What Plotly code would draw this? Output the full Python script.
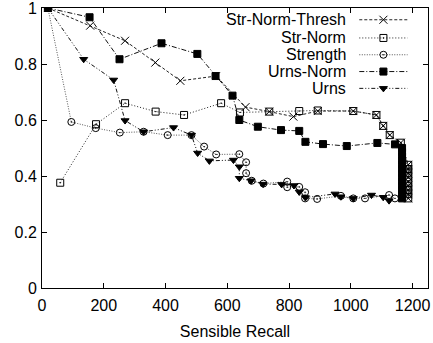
import plotly.graph_objects as go

# ---- data ----
thresh_x = [19, 156, 269, 367, 448, 564, 659, 736, 814, 893, 1008, 1083, 1105, 1126, 1162,
            1186, 1186, 1186, 1186, 1186, 1186, 1186, 1186, 1186]
thresh_y = [1.0, 0.937, 0.883, 0.805, 0.740, 0.757, 0.646, 0.630, 0.612, 0.632, 0.632, 0.618, 0.579, 0.546, 0.519,
            0.44, 0.425, 0.41, 0.395, 0.38, 0.365, 0.35, 0.335, 0.32]

strnorm_x = [59, 175, 269, 368, 460, 580, 641, 736, 833, 893, 1008, 1083, 1105, 1126, 1162,
             1186, 1186, 1186, 1186, 1186, 1186, 1186, 1186, 1186]
strnorm_y = [0.376, 0.585, 0.660, 0.630, 0.618, 0.660, 0.627, 0.630, 0.632, 0.634, 0.632, 0.618, 0.579, 0.546, 0.519,
             0.44, 0.425, 0.41, 0.395, 0.38, 0.365, 0.35, 0.335, 0.32]

strength_x = [19, 95, 174, 252, 329, 407, 484, 525, 564, 639, 661, 661, 679, 717, 794, 794, 833, 852, 852,
              891, 968, 1008, 1046, 1124, 1143]
strength_y = [1.0, 0.593, 0.571, 0.555, 0.558, 0.546, 0.546, 0.505, 0.477, 0.478, 0.449, 0.410, 0.383, 0.373,
              0.380, 0.360, 0.361, 0.342, 0.320, 0.318, 0.329, 0.320, 0.320, 0.332, 0.320]

urnsnorm_x = [19, 154, 251, 387, 503, 562, 617, 639, 699, 774, 833, 853, 910, 987, 1086, 1143,
              1166, 1166, 1166, 1166, 1166, 1166, 1166, 1166, 1166, 1166, 1166, 1166, 1166]
urnsnorm_y = [1.0, 0.967, 0.817, 0.874, 0.836, 0.757, 0.687, 0.600, 0.576, 0.564, 0.561, 0.522, 0.514, 0.507,
              0.518, 0.513,
              0.50, 0.485, 0.47, 0.455, 0.44, 0.425, 0.41, 0.395, 0.38, 0.365, 0.35, 0.335, 0.32]

urns_x = [19, 135, 232, 269, 329, 426, 484, 504, 542, 620, 639, 639, 677, 716, 776, 816, 833, 853, 949, 968,
          1008, 1067, 1105, 1124]
urns_y = [1.0, 0.817, 0.743, 0.598, 0.558, 0.573, 0.546, 0.482, 0.454, 0.457, 0.433, 0.392, 0.383, 0.371,
          0.370, 0.366, 0.343, 0.323, 0.336, 0.326, 0.320, 0.332, 0.324, 0.312]

series_names = ["Str-Norm-Thresh", "Str-Norm", "Strength", "Urns-Norm", "Urns"]
x_ticks = [0, 200, 400, 600, 800, 1000, 1200]
y_ticks = [0, 0.2, 0.4, 0.6, 0.8, 1]
y_ticktext = ["0", "0.2", "0.4", "0.6", "0.8", "1"]

FONT = "Liberation Sans, Arial, Helvetica, sans-serif"

styles = [
    dict(dash="3px,2px", color="#222", symbol="x-thin-open", size=8, width=1),
    dict(dash="1px,2px", color="#222", symbol="square-open-dot", size=7, width=1),
    dict(dash="1px,1.5px", color="#555", symbol="circle-open-dot", size=7, width=1),
    dict(dash="5px,2px,1px,2px", color="#111", symbol="square", size=7, width=1),
    dict(dash="4px,2px,1px,2px,1px,2px", color="#111", symbol="triangle-down", size=7, width=1),
]
data = [(thresh_x, thresh_y), (strnorm_x, strnorm_y), (strength_x, strength_y),
        (urnsnorm_x, urnsnorm_y), (urns_x, urns_y)]

fig = go.Figure()
for (xs, ys), st, name in zip(data, styles, series_names):
    fig.add_trace(go.Scatter(
        x=xs, y=ys, mode="lines+markers", name=name, showlegend=False,
        line=dict(color=st["color"], width=st["width"], dash=st["dash"]),
        marker=dict(symbol=st["symbol"], size=st["size"], color="black",
                    line=dict(color="black", width=1)),
    ))

# manual gnuplot-style legend (text left, sample right) on a hidden overlay axis
row_y = [0.958, 0.893, 0.833, 0.773, 0.713]
sx0, sx1 = 0.822, 0.947
annotations = []
for st, name, ry in zip(styles, series_names, row_y):
    fig.add_trace(go.Scatter(
        x=[sx0, sx1], y=[ry, ry], mode="lines", xaxis="x2", yaxis="y2", showlegend=False,
        line=dict(color=st["color"], width=st["width"], dash=st["dash"]), hoverinfo="skip"))
    fig.add_trace(go.Scatter(
        x=[(sx0 + sx1) / 2], y=[ry], mode="markers", xaxis="x2", yaxis="y2", showlegend=False,
        marker=dict(symbol=st["symbol"], size=st["size"], color="black",
                    line=dict(color="black", width=1)), hoverinfo="skip"))
    annotations.append(dict(x=0.793, y=ry, xref="paper", yref="paper", text=name,
                            showarrow=False, xanchor="right", yanchor="middle",
                            font=dict(family=FONT, size=16, color="black")))

axis_common = dict(showgrid=False, zeroline=False, showline=True, linecolor="black", linewidth=1,
                   mirror="ticks", ticks="inside", ticklen=5, tickcolor="black", tickwidth=1,
                   automargin=False, ticklabeloverflow="allow",
                   tickfont=dict(family=FONT, size=16, color="black"))

fig.update_layout(
    width=433, height=343,
    margin=dict(l=42, r=5, t=8, b=55),
    paper_bgcolor="white", plot_bgcolor="white",
    font=dict(family=FONT, size=16, color="black"),
    xaxis=dict(range=[0, 1250], tickvals=x_ticks, ticklabelstandoff=3,
               title=dict(text="Sensible Recall", font=dict(family=FONT, size=16), standoff=12),
               **axis_common),
    yaxis=dict(range=[0, 1], tickvals=y_ticks, ticktext=y_ticktext, ticklabelstandoff=1,
               **axis_common),
    xaxis2=dict(range=[0, 1], overlaying="x", visible=False, fixedrange=True),
    yaxis2=dict(range=[0, 1], overlaying="y", visible=False, fixedrange=True),
    annotations=annotations,
    showlegend=False,
)

fig.write_html("out.html", config={"displayModeBar": False},
               post_script="document.body.style.margin='0';document.body.style.padding='0';")
